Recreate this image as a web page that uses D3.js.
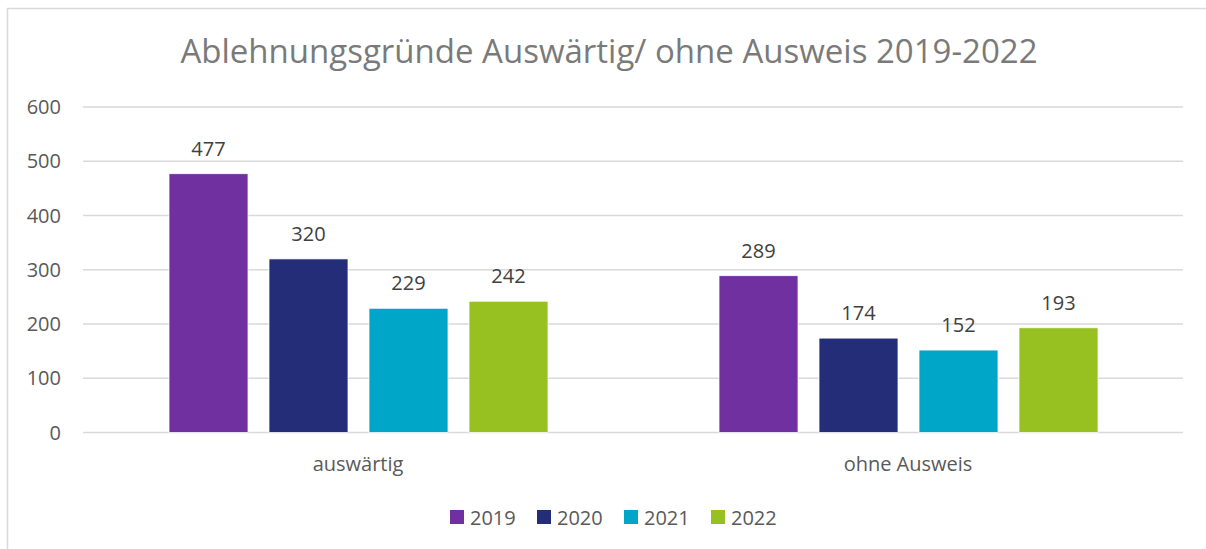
<!DOCTYPE html>
<html>
<head>
<meta charset="utf-8">
<script src="https://cdn.jsdelivr.net/npm/d3@7"></script>
<style>
  body { margin: 0; background: #fff; }
  svg { font-family: "Open Sans", sans-serif; }
</style>
</head>
<body>
<svg id="chart" width="1206" height="549"></svg>
<script>
// chart data
const categories = ['auswärtig', 'ohne Ausweis'];
const years = ['2019', '2020', '2021', '2022'];
const values2019 = [477, 289];
const values2020 = [320, 174];
const values2021 = [229, 152];
const values2022 = [242, 193];
const yTicks = [0, 100, 200, 300, 400, 500, 600];
const colors = ['#7030A0', '#242E78', '#00A6C8', '#96C120'];

const seriesValues = [values2019, values2020, values2021, values2022];
const rows = categories.map((c, i) => ({
    category: c,
    bars: years.map((y, j) => ({ year: y, value: seriesValues[j][i] }))
}));

const svg = d3.select('#chart');

// outer frame (left and top edges visible)
svg.append('path')
    .attr('d', 'M7.5,549 V8.5 H1206')
    .attr('fill', 'none')
    .attr('stroke', '#d9d9d9')
    .attr('stroke-width', 1.5);

// title
svg.append('text')
    .attr('x', 609)
    .attr('y', 63)
    .attr('text-anchor', 'middle')
    .attr('font-size', 33)
    .attr('fill', '#7a7a7a')
    .text('Ablehnungsgründe Auswärtig/ ohne Ausweis 2019-2022');

const x0 = d3.scaleBand().domain(categories).range([83, 1183]);
const x1 = d3.scaleBand().domain(years).range([86, 465]).paddingInner(0.21);
const y = d3.scaleLinear().domain([0, 600]).range([432.5, 107]);

// gridlines
svg.append('g')
    .selectAll('line')
    .data(yTicks)
    .join('line')
    .attr('x1', 83)
    .attr('x2', 1183)
    .attr('y1', d => y(d))
    .attr('y2', d => y(d))
    .attr('stroke', '#d9d9d9')
    .attr('stroke-width', 1.5);

// y labels
svg.append('g')
    .selectAll('text')
    .data(yTicks)
    .join('text')
    .attr('x', 61)
    .attr('y', d => y(d) + 7)
    .attr('text-anchor', 'end')
    .attr('font-size', 20)
    .attr('fill', '#595959')
    .text(d => d);

// bars
const groups = svg.append('g')
    .selectAll('g')
    .data(rows)
    .join('g')
    .attr('transform', d => `translate(${x0(d.category)},0)`);

groups.selectAll('rect')
    .data(d => d.bars)
    .join('rect')
    .attr('x', d => x1(d.year))
    .attr('width', x1.bandwidth())
    .attr('y', d => y(d.value))
    .attr('height', d => y(0) - y(d.value))
    .attr('fill', (d, i) => colors[i])
    .attr('stroke', '#fff')
    .attr('stroke-width', 0.75);

// data labels
groups.selectAll('text')
    .data(d => d.bars)
    .join('text')
    .attr('x', d => x1(d.year) + x1.bandwidth() / 2)
    .attr('y', d => y(d.value) - 18)
    .attr('text-anchor', 'middle')
    .attr('font-size', 20)
    .attr('fill', '#404040')
    .text(d => d.value);

// category labels
svg.append('g')
    .selectAll('text')
    .data(categories)
    .join('text')
    .attr('x', d => x0(d) + x0.bandwidth() / 2)
    .attr('y', 471)
    .attr('text-anchor', 'middle')
    .attr('font-size', 20)
    .attr('fill', '#595959')
    .text(d => d);

// legend
const legend = svg.append('g')
    .selectAll('g')
    .data(years)
    .join('g')
    .attr('transform', (d, i) => `translate(${450 + i * 87},510)`);

legend.append('rect')
    .attr('width', 14)
    .attr('height', 14)
    .attr('fill', (d, i) => colors[i]);

legend.append('text')
    .attr('x', 20)
    .attr('y', 15)
    .attr('font-size', 20)
    .attr('fill', '#595959')
    .text(d => d);
</script>
</body>
</html>
